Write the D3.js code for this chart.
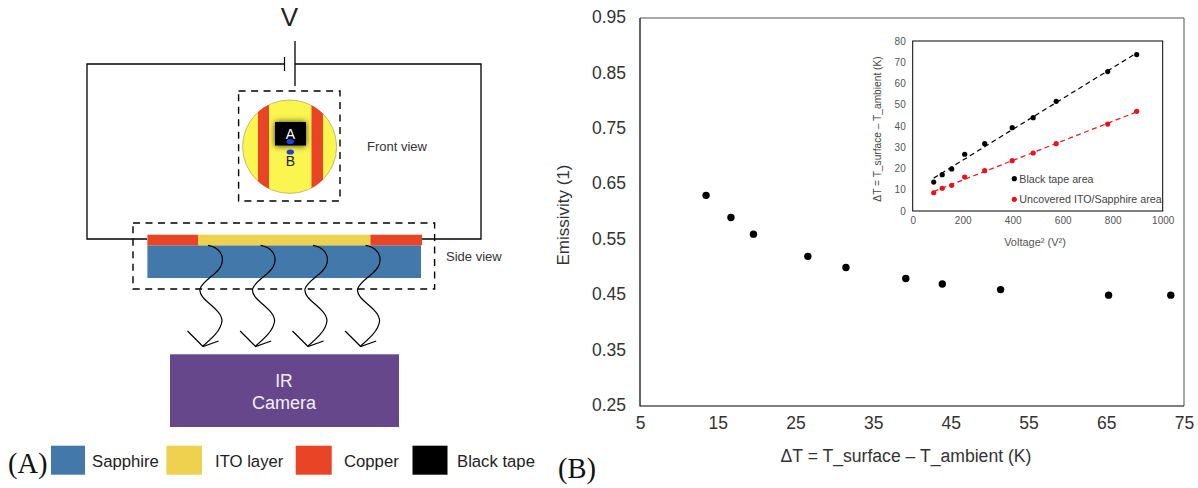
<!DOCTYPE html>
<html>
<head>
<meta charset="utf-8">
<script src="https://cdn.jsdelivr.net/npm/d3@7"></script>
<style>
  html, body { margin: 0; padding: 0; background: #fff; }
  svg { display: block; }
  text { font-family: "Liberation Sans", sans-serif; }
  .domain { display: none; }
</style>
</head>
<body>
<script>
// Panel B values
const deltaT = [13.5, 16.7, 19.6, 26.6, 31.5, 39.2, 43.9, 51.4, 65.3, 73.3];
const emissivity = [0.63, 0.59, 0.56, 0.52, 0.50, 0.48, 0.47, 0.46, 0.45, 0.45];
const emisTicks = [0.25, 0.35, 0.45, 0.55, 0.65, 0.75, 0.85, 0.95];
const deltaTicks = [5, 15, 25, 35, 45, 55, 65, 75];

// inset values
const voltageSq = [84, 118, 156, 208, 288, 398, 482, 574, 780, 896];
const blackArea = [13.6, 17.1, 19.8, 26.7, 31.7, 39.2, 43.9, 51.6, 65.6, 73.6];
const bareArea = [8.6, 10.7, 12.1, 16, 19, 23.7, 27.3, 31.7, 40.9, 46.9];
const insetXTicks = [0, 200, 400, 600, 800, 1000];
const insetYTicks = [0, 10, 20, 30, 40, 50, 60, 70, 80];

// Panel A legend
const legendNames = ["Sapphire", "ITO layer", "Copper", "Black tape"];

const colors = { sapphire: "#4279aa", ito: "#eed14e", copper: "#e94426", tape: "#000", disc: "#fbf54f", camera: "#67478c" };
const w = 1198;
const h = 488;

const svg = d3.select("body").append("svg").attr("width", w).attr("height", h);

const defs = svg.append("defs");
defs.append("clipPath").attr("id", "disc")
    .append("ellipse").attr("cx", 289.6).attr("cy", 146.7).attr("rx", 47).attr("ry", 46.7);
defs.append("filter").attr("id", "tapeBlur").attr("x", "-30%").attr("y", "-30%").attr("width", "160%").attr("height", "160%")
    .append("feGaussianBlur").attr("stdDeviation", 3);

// ---------- Panel A: schematic ----------
const a = svg.append("g").attr("id", "panel-a");

function line(g, pts, width, dash) {
    return g.append("path")
        .attr("d", d3.line()(pts))
        .attr("fill", "none")
        .attr("stroke", "#000")
        .attr("stroke-width", width)
        .attr("stroke-dasharray", dash || null);
}

function label(g, x, y, str, size, fill, anchor) {
    return g.append("text")
        .attr("x", x).attr("y", y)
        .attr("font-size", size)
        .attr("fill", fill || "#333")
        .attr("text-anchor", anchor || "start")
        .text(str);
}

// circuit
line(a, [[284, 64], [87, 64], [87, 239], [147, 239]], 1.3);
line(a, [[295, 64], [481, 64], [481, 239], [422, 239]], 1.3);
line(a, [[284.5, 57], [284.5, 71]], 1.2);
line(a, [[295, 41], [295, 86]], 1.3);
label(a, 289.5, 26, "V", 26, "#222", "middle");

// front view
line(a, [[238.6, 91], [340, 91], [340, 201], [238.6, 201], [238.6, 91]], 1.4, "7 5.5");
a.append("ellipse").attr("cx", 289.6).attr("cy", 146.7).attr("rx", 47).attr("ry", 46.7)
    .attr("fill", colors.disc).attr("stroke", "#b5aa70").attr("stroke-width", 0.8);
const stripes = a.append("g").attr("clip-path", "url(#disc)");
stripes.append("rect").attr("x", 258).attr("y", 95).attr("width", 11).attr("height", 105).attr("fill", colors.copper);
stripes.append("rect").attr("x", 311.5).attr("y", 95).attr("width", 11.5).attr("height", 105).attr("fill", colors.copper);
a.append("rect").attr("x", 275).attr("y", 122).attr("width", 31).attr("height", 24)
    .attr("fill", "#000").attr("opacity", 0.75).attr("filter", "url(#tapeBlur)");
a.append("rect").attr("x", 275).attr("y", 122).attr("width", 31).attr("height", 23.5).attr("fill", colors.tape);
label(a, 290.3, 138.5, "A", 14, "#fff", "middle");
label(a, 290.3, 165.5, "B", 14, "#222", "middle");
a.append("ellipse").attr("cx", 290.3).attr("cy", 141.5).attr("rx", 3.7).attr("ry", 2.6).attr("fill", "#1f3fe0");
a.append("ellipse").attr("cx", 290.3).attr("cy", 152).attr("rx", 3.7).attr("ry", 2.6).attr("fill", "#1f3fe0");
label(a, 367, 151, "Front view", 13);

// side view
a.append("rect").attr("x", 147.4).attr("y", 245.3).attr("width", 273.6).attr("height", 32.7).attr("fill", colors.sapphire);
a.append("rect").attr("x", 147.4).attr("y", 234.7).attr("width", 51).attr("height", 10.6).attr("fill", colors.copper);
a.append("rect").attr("x", 198.4).attr("y", 234.7).attr("width", 172).attr("height", 10.6).attr("fill", colors.ito);
a.append("rect").attr("x", 370.4).attr("y", 234.7).attr("width", 51.6).attr("height", 10.6).attr("fill", colors.copper);
line(a, [[133, 223], [434.6, 223], [434.6, 289], [133, 289], [133, 223]], 1.4, "7 5.5");
label(a, 446, 261, "Side view", 13);

// IR rays
[0, 52.6, 105, 157.6].forEach(dx => {
    const ray = a.append("g").attr("transform", `translate(${dx},0)`);
    ray.append("path")
        .attr("d", "M208,245.3 C218,247 224,254 222,263 C220,274 203,279 200,289 C198,300 222,308 222,321 C221,331 210,340 203,346")
        .attr("fill", "none").attr("stroke", "#000").attr("stroke-width", 1.2);
    line(ray, [[187.5, 331], [203, 346.5], [218.6, 341]], 1.2);
});

// camera
a.append("rect").attr("x", 170).attr("y", 354.3).attr("width", 229).attr("height", 72.7).attr("fill", colors.camera);
label(a, 284, 387, "IR", 17.5, "#f4eff7", "middle");
label(a, 284, 409, "Camera", 18, "#f4eff7", "middle");

// legend
const legendX = [51, 166.4, 295.7, 412.5];
const legendW = [34, 35.6, 36, 35];
const legendTextX = [92, 215, 344, 457];
const legendFill = [colors.sapphire, colors.ito, colors.copper, colors.tape];
legendNames.forEach((name, i) => {
    a.append("rect").attr("x", legendX[i]).attr("y", 445.7).attr("width", legendW[i]).attr("height", 29).attr("fill", legendFill[i]);
    label(a, legendTextX[i], 466.7, name, 16.7, "#222");
});
a.append("text").attr("x", 8).attr("y", 473).attr("font-size", 28.5).attr("fill", "#111")
    .style("font-family", "'Liberation Serif', serif").text("(A)");

// ---------- Panel B: scatter ----------
const xScale = d3.scaleLinear().domain([5, 75]).range([640, 1184]);
const yScale = d3.scaleLinear().domain([0.25, 0.95]).range([406, 18]);

const b = svg.append("g").attr("id", "panel-b");

const xAxis = d3.axisBottom(xScale).tickValues(deltaTicks).tickSize(0).tickPadding(11);
const yAxis = d3.axisLeft(yScale).tickValues(emisTicks).tickSize(0).tickPadding(14).tickFormat(d3.format(".2f"));

const gx = b.append("g").attr("transform", "translate(0,406)").call(xAxis);
const gy = b.append("g").attr("transform", "translate(640,-1)").call(yAxis);
[gx, gy].forEach(g => g.selectAll("text")
    .attr("fill", "#333").style("font-size", "17.5px").style("font-family", "'Liberation Sans', sans-serif"));

line(b, [[640, 18], [1184, 18], [1184, 406]], 1).attr("stroke", "#555");
line(b, [[640, 18], [640, 406], [1184, 406]], 1.2);

b.selectAll("circle.main")
    .data(deltaT)
    .enter()
    .append("circle")
    .attr("class", "main")
    .attr("cx", d => xScale(d))
    .attr("cy", (d, i) => yScale(emissivity[i]))
    .attr("r", 3.7)
    .attr("fill", "#000");

label(b, 906, 461.7, "ΔT = T_surface – T_ambient (K)", 17.6, "#333", "middle");
b.append("text")
    .attr("transform", "translate(569,215) rotate(-90)")
    .attr("text-anchor", "middle")
    .attr("font-size", 17)
    .attr("fill", "#333")
    .text("Emissivity (1)");
b.append("text").attr("x", 558).attr("y", 478).attr("font-size", 28.5).attr("fill", "#111")
    .style("font-family", "'Liberation Serif', serif").text("(B)");

// ---------- inset ----------
const ix = d3.scaleLinear().domain([0, 1000]).range([912.7, 1162.7]);
const iy = d3.scaleLinear().domain([0, 80]).range([211, 41]);

const ins = svg.append("g").attr("id", "inset");
const igx = ins.append("g").attr("transform", "translate(0,211)")
    .call(d3.axisBottom(ix).tickValues(insetXTicks).tickSize(0).tickPadding(6).tickFormat(d3.format("d")));
const igy = ins.append("g").attr("transform", "translate(912.7,0)")
    .call(d3.axisLeft(iy).tickValues(insetYTicks).tickSize(0).tickPadding(7));
[igx, igy].forEach(g => g.selectAll("text")
    .attr("fill", "#555").style("font-size", "10px").style("font-family", "'Liberation Sans', sans-serif"));

ins.append("rect")
    .attr("x", ix(0)).attr("y", iy(80))
    .attr("width", ix(1000) - ix(0)).attr("height", iy(0) - iy(80))
    .attr("fill", "none").attr("stroke", "#000").attr("stroke-width", 1);

// straight-line fit through a series, same as the spreadsheet trendline
function fit(xs, ys) {
    const mx = d3.mean(xs);
    const my = d3.mean(ys);
    const slope = d3.sum(xs, (x, i) => (x - mx) * (ys[i] - my)) / d3.sum(xs, x => (x - mx) * (x - mx));
    return x => my + slope * (x - mx);
}

[[blackArea, "#000"], [bareArea, "#e8141c"]].forEach(([series, color]) => {
    const f = fit(voltageSq, series);
    const ends = d3.extent(voltageSq);
    ins.append("line")
        .attr("x1", ix(ends[0])).attr("y1", iy(f(ends[0])))
        .attr("x2", ix(ends[1])).attr("y2", iy(f(ends[1])))
        .attr("stroke", color).attr("stroke-width", 1.2).attr("stroke-dasharray", "5 3.5");
    ins.selectAll(null)
        .data(voltageSq)
        .enter()
        .append("circle")
        .attr("cx", d => ix(d))
        .attr("cy", (d, i) => iy(series[i]))
        .attr("r", 2.6)
        .attr("fill", color);
});

ins.append("circle").attr("cx", 1014.3).attr("cy", 178.7).attr("r", 2.6).attr("fill", "#000");
label(ins, 1019.3, 182.7, "Black tape area", 10.7, "#444");
ins.append("circle").attr("cx", 1014.3).attr("cy", 199.3).attr("r", 2.6).attr("fill", "#e8141c");
label(ins, 1019.3, 203, "Uncovered ITO/Sapphire area", 10.7, "#444");

label(ins, 1035, 246, "Voltage² (V²)", 11, "#555", "middle");
ins.append("text")
    .attr("transform", "translate(881,129) rotate(-90)")
    .attr("text-anchor", "middle")
    .attr("font-size", 10.2)
    .attr("fill", "#444")
    .text("ΔT = T_surface – T_ambient (K)");
</script>
</body>
</html>
